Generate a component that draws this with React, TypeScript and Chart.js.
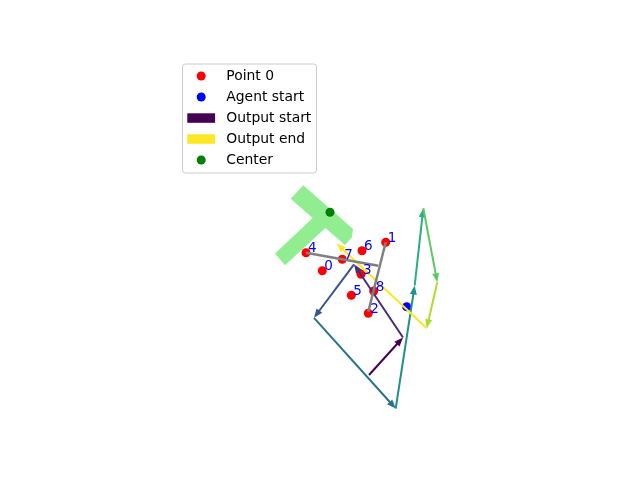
import React, { useEffect, useRef } from "react";
import { Chart, registerables } from "chart.js";

Chart.register(...registerables);

// ---- data (axis units, y up) ----
const pointLabels = ["0", "1", "2", "3", "4", "5", "6", "7", "8"];
const pointX = [24.23, 30.57, 28.83, 28.1, 22.6, 27.13, 28.2, 26.23, 29.37];
const pointY = [15.65, 18.49, 11.39, 15.29, 17.45, 13.19, 17.65, 16.79, 13.62];

const agentStartX = [32.67];
const agentStartY = [12.05];

const centerX = [25.0];
const centerY = [21.49];

// output path (arrows between consecutive vertices)
const pathX = [28.9, 32.3, 27.4, 23.4, 31.57, 33.47, 34.33, 35.73, 34.67, 25.67];
const pathY = [5.22, 8.97, 16.29, 10.94, 1.87, 14.17, 21.89, 14.5, 9.89, 18.37];
const pathColors = ["#440154", "#472d7b", "#3b528b", "#2c728e", "#21918c", "#28ae80", "#5ec962", "#addc30", "#fde725"];

// gray axis lines
const axisLineA_X = [30.57, 28.83];
const axisLineA_Y = [18.49, 11.55];
const axisLineB_X = [22.6, 29.83];
const axisLineB_Y = [17.45, 16.15];

// light green T-shaped region outline
const shapeX = [22.33, 27.3, 27.2, 26.5, 24.54, 20.5, 19.5, 23.27, 21.07];
const shapeY = [24.19, 19.82, 19.02, 18.22, 19.92, 16.19, 17.37, 20.91, 22.85];

const legendLabels = ["Point 0", "Agent start", "Output start", "Output end", "Center"];
const legendKinds = ["circle", "circle", "rect", "rect", "circle"];
const legendColors = ["#ff0000", "#0000ff", "#440154", "#fde725", "#008000"];

const drawPlugin = {
  id: "customDraw",
  beforeDatasetsDraw(chart: any) {
    const { ctx } = chart;
    const xs = chart.scales.x;
    const ys = chart.scales.y;
    ctx.save();
    ctx.beginPath();
    shapeX.forEach((v, i) => {
      const px = xs.getPixelForValue(v);
      const py = ys.getPixelForValue(shapeY[i]);
      if (i === 0) ctx.moveTo(px, py);
      else ctx.lineTo(px, py);
    });
    ctx.closePath();
    ctx.fillStyle = "#90ee90";
    ctx.fill();
    ctx.restore();
  },
  afterDatasetsDraw(chart: any) {
    const { ctx } = chart;
    const xs = chart.scales.x;
    const ys = chart.scales.y;
    ctx.save();
    // arrows
    for (let i = 0; i < pathX.length - 1; i++) {
      const x0 = xs.getPixelForValue(pathX[i]);
      const y0 = ys.getPixelForValue(pathY[i]);
      const x1 = xs.getPixelForValue(pathX[i + 1]);
      const y1 = ys.getPixelForValue(pathY[i + 1]);
      const dx = x1 - x0;
      const dy = y1 - y0;
      const len = Math.hypot(dx, dy);
      const ux = dx / len;
      const uy = dy / len;
      const nx = -uy;
      const ny = ux;
      const L = 9;
      const W = 3.5;
      ctx.strokeStyle = pathColors[i];
      ctx.fillStyle = pathColors[i];
      ctx.lineWidth = 2;
      ctx.beginPath();
      ctx.moveTo(x0, y0);
      ctx.lineTo(x1 - ux * L * 0.6, y1 - uy * L * 0.6);
      ctx.stroke();
      ctx.beginPath();
      ctx.moveTo(x1, y1);
      ctx.lineTo(x1 - ux * L + nx * W, y1 - uy * L + ny * W);
      ctx.lineTo(x1 - ux * L - nx * W, y1 - uy * L - ny * W);
      ctx.closePath();
      ctx.fill();
    }
    // gray lines
    ctx.strokeStyle = "#808080";
    ctx.lineWidth = 2.5;
    [[axisLineA_X, axisLineA_Y], [axisLineB_X, axisLineB_Y]].forEach(([lx, ly]) => {
      ctx.beginPath();
      ctx.moveTo(xs.getPixelForValue(lx[0]), ys.getPixelForValue(ly[0]));
      ctx.lineTo(xs.getPixelForValue(lx[1]), ys.getPixelForValue(ly[1]));
      ctx.stroke();
    });
    // labels
    ctx.fillStyle = "#0000ff";
    ctx.font = "13.5px 'DejaVu Sans'";
    ctx.textAlign = "left";
    ctx.textBaseline = "alphabetic";
    pointLabels.forEach((t, i) => {
      const px = xs.getPixelForValue(pointX[i]);
      const py = ys.getPixelForValue(pointY[i]);
      ctx.fillText(t, px + 2, py - 0.5);
    });
    ctx.restore();
  },
  afterDraw(chart: any) {
    const { ctx } = chart;
    ctx.save();
    const bx = 182.5, by = 64, bw = 134, bh = 109, r = 3;
    ctx.beginPath();
    ctx.moveTo(bx + r, by);
    ctx.lineTo(bx + bw - r, by);
    ctx.quadraticCurveTo(bx + bw, by, bx + bw, by + r);
    ctx.lineTo(bx + bw, by + bh - r);
    ctx.quadraticCurveTo(bx + bw, by + bh, bx + bw - r, by + bh);
    ctx.lineTo(bx + r, by + bh);
    ctx.quadraticCurveTo(bx, by + bh, bx, by + bh - r);
    ctx.lineTo(bx, by + r);
    ctx.quadraticCurveTo(bx, by, bx + r, by);
    ctx.closePath();
    ctx.fillStyle = "rgba(255,255,255,0.8)";
    ctx.fill();
    ctx.strokeStyle = "#cccccc";
    ctx.lineWidth = 1;
    ctx.stroke();
    ctx.font = "13.9px 'DejaVu Sans'";
    ctx.textBaseline = "middle";
    ctx.textAlign = "left";
    legendLabels.forEach((lab, i) => {
      const cy = 76 + i * 21;
      ctx.fillStyle = legendColors[i];
      if (legendKinds[i] === "circle") {
        ctx.beginPath();
        ctx.arc(201.2, cy, 4.5, 0, Math.PI * 2);
        ctx.fill();
      } else {
        ctx.fillRect(187.3, cy - 4.7, 27.8, 9.5);
      }
      ctx.fillStyle = "#000000";
      ctx.fillText(lab, 226.3, cy + 0.5);
    });
    ctx.restore();
  },
};

export default function App() {
  const canvasRef = useRef<HTMLCanvasElement | null>(null);
  useEffect(() => {
    if (!canvasRef.current) return;
    const toPts = (xs: number[], ys: number[]) => xs.map((v, i) => ({ x: v, y: ys[i] }));
    const chart = new Chart(canvasRef.current, {
      type: "scatter",
      data: {
        datasets: [
          {
            label: "Center",
            data: toPts(centerX, centerY),
            backgroundColor: "#008000",
            borderWidth: 0,
            pointRadius: 4.5,
            order: 0,
          },
          {
            label: "Agent start",
            data: toPts(agentStartX, agentStartY),
            backgroundColor: "#0000ff",
            borderWidth: 0,
            pointRadius: 4.5,
            order: 1,
          },
          {
            label: "Point 0",
            data: toPts(pointX, pointY),
            backgroundColor: "#ff0000",
            borderWidth: 0,
            pointRadius: 4.5,
            order: 2,
          },
        ],
      },
      options: {
        responsive: false,
        animation: false,
        layout: { padding: { left: 80, right: 64, top: 57.6, bottom: 52.8 } },
        scales: {
          x: { type: "linear", min: 0, max: 49.6, display: false },
          y: { type: "linear", min: 0, max: 36.96, display: false },
        },
        plugins: {
          legend: { display: false },
          tooltip: { enabled: false },
        },
        events: [],
      },
      plugins: [drawPlugin],
    });
    return () => chart.destroy();
  }, []);
  return (
    <div style={{ position: "fixed", left: 0, top: 0, width: 640, height: 480, background: "#fff" }}>
      <canvas ref={canvasRef} width={640} height={480} style={{ display: "block" }} />
    </div>
  );
}
